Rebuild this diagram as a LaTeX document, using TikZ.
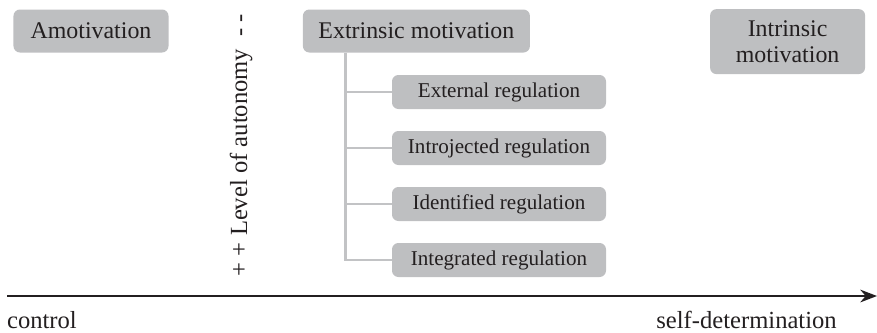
\documentclass[tikz,border=0pt]{standalone}
\usepackage{fontspec}
\usepackage{tikz}
\usetikzlibrary{arrows.meta}
\setmainfont{Liberation Serif}
\definecolor{SdtGrey}{HTML}{BEBFC1}
\definecolor{SdtLine}{HTML}{C2C3C5}
\definecolor{SdtInk}{HTML}{231F20}

\begin{document}
\begin{tikzpicture}[
  font=\fontsize{17}{19}\selectfont,
  text=SdtInk,
  mainbox/.style={fill=SdtGrey, rounded corners=0.16cm, align=center, inner sep=0pt},
  subbox/.style={fill=SdtGrey, rounded corners=0.16cm, minimum width=5.35cm, minimum height=0.85cm, inner sep=0pt, font=\fontsize{15}{17}\selectfont},
  branch/.style={draw=SdtLine, line width=1.6pt},
  axis/.style={-{Stealth[length=0.42cm, width=0.32cm]}, draw=SdtInk, line width=1.2pt}
]
\useasboundingbox (0,0) rectangle (21.925,-8.3);
\node[mainbox, minimum width=3.875cm, minimum height=1.075cm] (amot) at (2.275, -0.775) {Amotivation};
\node[mainbox, minimum width=5.675cm, minimum height=1.075cm] (ext) at (10.41, -0.775) {Extrinsic motivation};
\node[mainbox, minimum width=3.875cm, minimum height=1.625cm] (intr) at (19.69, -1.04) {Intrinsic\\motivation};
\coordinate (trunk) at ([xshift=1.075cm]ext.south west);
\foreach \i/\sublabel in {
  0/{External regulation},
  1/{Introjected regulation},
  2/{Identified regulation},
  3/{Integrated regulation}
}{
  \node[subbox] (sub\i) at (12.475, -2.3-\i*1.4) {\sublabel};
  \draw[branch] (trunk) |- (sub\i.west);
}
\node[rotate=90, font=\fontsize{17.5}{19}\selectfont] (autonomy) at (6.025, -3.625) {+ + Level of autonomy \ - -};
\coordinate (axstart) at (0.175, -7.4);
\coordinate (axend) at (21.925, -7.4);
\draw[axis] (axstart) -- (axend);
\node[anchor=base west, inner sep=0pt, font=\fontsize{17.5}{19}\selectfont] (control) at (0.17, -8.2) {control};
\node[anchor=base east, inner sep=0pt, font=\fontsize{17.5}{19}\selectfont] (selfdet) at (20.925, -8.2) {self-determination};
\end{tikzpicture}
\end{document}
